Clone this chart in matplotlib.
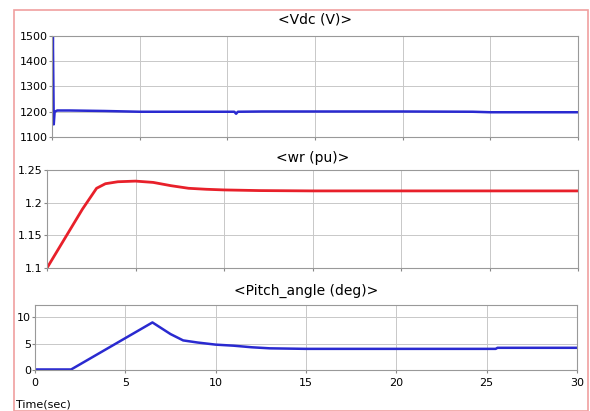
import matplotlib.pyplot as plt
from matplotlib.patches import Rectangle

# Vdc (V)
t_vdc = [0, 0.05, 0.1, 0.15, 0.3, 1, 3, 5, 8, 10.4, 10.5, 10.6, 12, 15, 20, 24, 25, 30]
vdc = [1200, 1500, 1150, 1200, 1205, 1205, 1203, 1200, 1200, 1200, 1192, 1200, 1201, 1201, 1201, 1200, 1198, 1198]

# wr (pu)
t_wr = [0, 1, 2, 2.8, 3.3, 4, 5, 6, 7, 8, 9, 10, 12, 15, 20, 25, 30]
wr = [1.1, 1.145, 1.19, 1.222, 1.229, 1.232, 1.233, 1.231, 1.226, 1.222, 1.2205, 1.2195, 1.2185, 1.218, 1.218, 1.218, 1.218]

# Pitch angle (deg)
t_pitch = [0, 2, 6.5, 7.5, 8.2, 9, 10, 11, 12, 13, 15, 20, 25.5, 25.6, 30]
pitch = [0.1, 0.1, 9, 6.8, 5.6, 5.2, 4.8, 4.6, 4.3, 4.1, 4.0, 4.0, 4.0, 4.2, 4.2]

xticks = [0, 5, 10, 15, 20, 25, 30]

W, H = 590, 411
fig = plt.figure(figsize=(W / 100, H / 100), dpi=100)
fig.patch.set_facecolor('white')
fig.patches.append(Rectangle((14 / W, 0), (588 - 14) / W, 1 - 10 / H, transform=fig.transFigure,
                             fill=False, edgecolor='#f0a0a0', lw=1.2))

def box(l, t, r, b):
    return [l / W, 1 - b / H, (r - l) / W, (b - t) / H]

ax1 = fig.add_axes(box(52, 36, 578, 137))
ax2 = fig.add_axes(box(47, 170, 578, 268))
ax3 = fig.add_axes(box(35, 305, 577, 370))

ax1.plot(t_vdc, vdc, color='#2a2ad0', lw=1.8)
ax1.set_ylim(1100, 1500)
ax1.set_yticks([1100, 1200, 1300, 1400, 1500])
ax1.set_title('<Vdc (V)>', fontsize=10, pad=9)

ax2.plot(t_wr, wr, color='#e8202a', lw=2)
ax2.set_ylim(1.1, 1.25)
ax2.set_yticks([1.1, 1.15, 1.2, 1.25])
ax2.set_yticklabels(['1.1', '1.15', '1.2', '1.25'])
ax2.set_title('<wr (pu)>', fontsize=10, pad=6)

ax3.plot(t_pitch, pitch, color='#2a2ad0', lw=1.8)
ax3.set_ylim(0, 12.3)
ax3.set_yticks([0, 5, 10])
ax3.set_title('<Pitch_angle (deg)>', fontsize=10, pad=7)

for ax in (ax1, ax2, ax3):
    ax.set_xlim(0, 30)
    ax.set_xticks(xticks)
    ax.grid(True, color='#c8c8c8', lw=0.7)
    ax.tick_params(labelsize=8, length=2, color='#888888', pad=1)
    for s in ax.spines.values():
        s.set_color('#999999')
        s.set_linewidth(0.8)

ax1.set_xticklabels([])
ax2.set_xticklabels([])
ax3.set_xticklabels([str(x) for x in xticks])
ax3.tick_params(axis='x', pad=4)

fig.text(16 / W, 1 - 404 / H, 'Time(sec)', fontsize=8, va='center', ha='left')

fig.savefig('out.png', dpi=100)
